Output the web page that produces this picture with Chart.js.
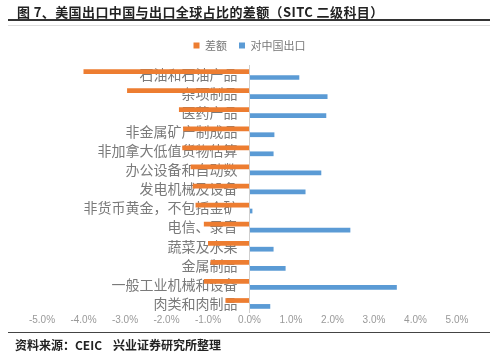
<!DOCTYPE html>
<html>
<head>
<meta charset="utf-8">
<script src="https://cdn.jsdelivr.net/npm/chart.js@4"></script>
<style>
  body { margin: 0; background: #fff; }
  #wrap { position: relative; width: 500px; height: 354px; overflow: hidden; background: #fff; }
  #c { position: absolute; left: 0; top: 0; }
  .title { position: absolute; left: 17px; top: 2px; font: bold 13px "Noto Sans CJK SC", sans-serif; letter-spacing: 0.4px; color: #222; white-space: nowrap; }
  .line1 { position: absolute; left: 8px; width: 482px; top: 19px; height: 2px; background: #333; }
  .line2 { position: absolute; left: 8px; width: 482px; top: 25px; height: 1px; background: #ddd; }
  .line3 { position: absolute; left: 8px; width: 482px; top: 332px; height: 1px; background: #444; }
  .source { position: absolute; left: 15px; top: 336px; font: bold 12px "Noto Sans CJK SC", sans-serif; color: #222; white-space: nowrap; }
</style>
</head>
<body>
<div id="wrap">
  <canvas id="c" width="500" height="354"></canvas>
  <div class="title">图 7、美国出口中国与出口全球占比的差额（SITC 二级科目）</div>
  <div class="line1"></div>
  <div class="line2"></div>
  <div class="line3"></div>
  <div class="source">资料来源：CEIC&nbsp;&nbsp;&nbsp;&nbsp;兴业证券研究所整理</div>
</div>
<script>
let categories = [
  "石油和石油产品",
  "杂项制品",
  "医药产品",
  "非金属矿产制成品",
  "非加拿大低值货物估算",
  "办公设备和自动数",
  "发电机械及设备",
  "非货币黄金，不包括金矿",
  "电信、录音",
  "蔬菜及水果",
  "金属制品",
  "一般工业机械和设备",
  "肉类和肉制品",
];

// 差额 (%)
let diffValues = [-4.0, -2.95, -1.7, -1.6, -1.62, -1.42, -1.37, -1.3, -1.1, -1.0, -0.94, -1.1, -0.58];
// 对中国出口 (%)
let chinaValues = [1.2, 1.88, 1.85, 0.6, 0.58, 1.73, 1.35, 0.07, 2.43, 0.58, 0.87, 3.55, 0.5];

let xMin = -5;
let xMax = 5;

// a bit more room under the legend
const legendGap = {
  id: "legendGap",
  beforeInit(chart) {
    const fit = chart.legend.fit;
    chart.legend.fit = function () {
      fit.bind(chart.legend)();
      this.height += 4;
    };
  },
};

new Chart(document.getElementById("c"), {
  type: "bar",
  data: {
    labels: categories,
    datasets: [
      {
        label: "差额",
        data: diffValues,
        backgroundColor: "#ED7D31",
        categoryPercentage: 0.62,
        barPercentage: 0.8,
      },
      {
        label: "对中国出口",
        data: chinaValues,
        backgroundColor: "#5B9BD5",
        categoryPercentage: 0.62,
        barPercentage: 0.8,
      },
    ],
  },
  options: {
    indexAxis: "y",
    responsive: false,
    animation: false,
    layout: { padding: { top: 28, left: 42, right: 43, bottom: 27 } },
    plugins: {
      legend: {
        position: "top",
        labels: {
          boxWidth: 6,
          boxHeight: 6,
          padding: 12,
          color: "#777",
          font: { size: 11, family: "'Noto Sans CJK SC', sans-serif" },
        },
      },
      tooltip: { enabled: false },
    },
    scales: {
      x: {
        min: xMin,
        max: xMax,
        // only the zero line is drawn, as the category axis line
        grid: {
          drawTicks: false,
          lineWidth: 1,
          color: (ctx) => (ctx.tick && Math.abs(ctx.tick.value) < 1e-9 ? "#cfcfcf" : "rgba(0,0,0,0)"),
        },
        border: { display: false },
        ticks: {
          stepSize: 1,
          padding: 1,
          color: "#999",
          font: { size: 10, family: "'Liberation Sans', Arial, sans-serif" },
          callback: (v) => v.toFixed(1) + "%",
        },
      },
      y: {
        // labels sit just left of the zero line, like the Excel original
        position: { x: -0.29 },
        grid: { display: false },
        border: { display: false },
        ticks: {
          autoSkip: false,
          color: "#7a7a7a",
          font: { size: 14, family: "'Noto Sans CJK SC', sans-serif" },
        },
      },
    },
  },
  plugins: [legendGap],
});
</script>
</body>
</html>
